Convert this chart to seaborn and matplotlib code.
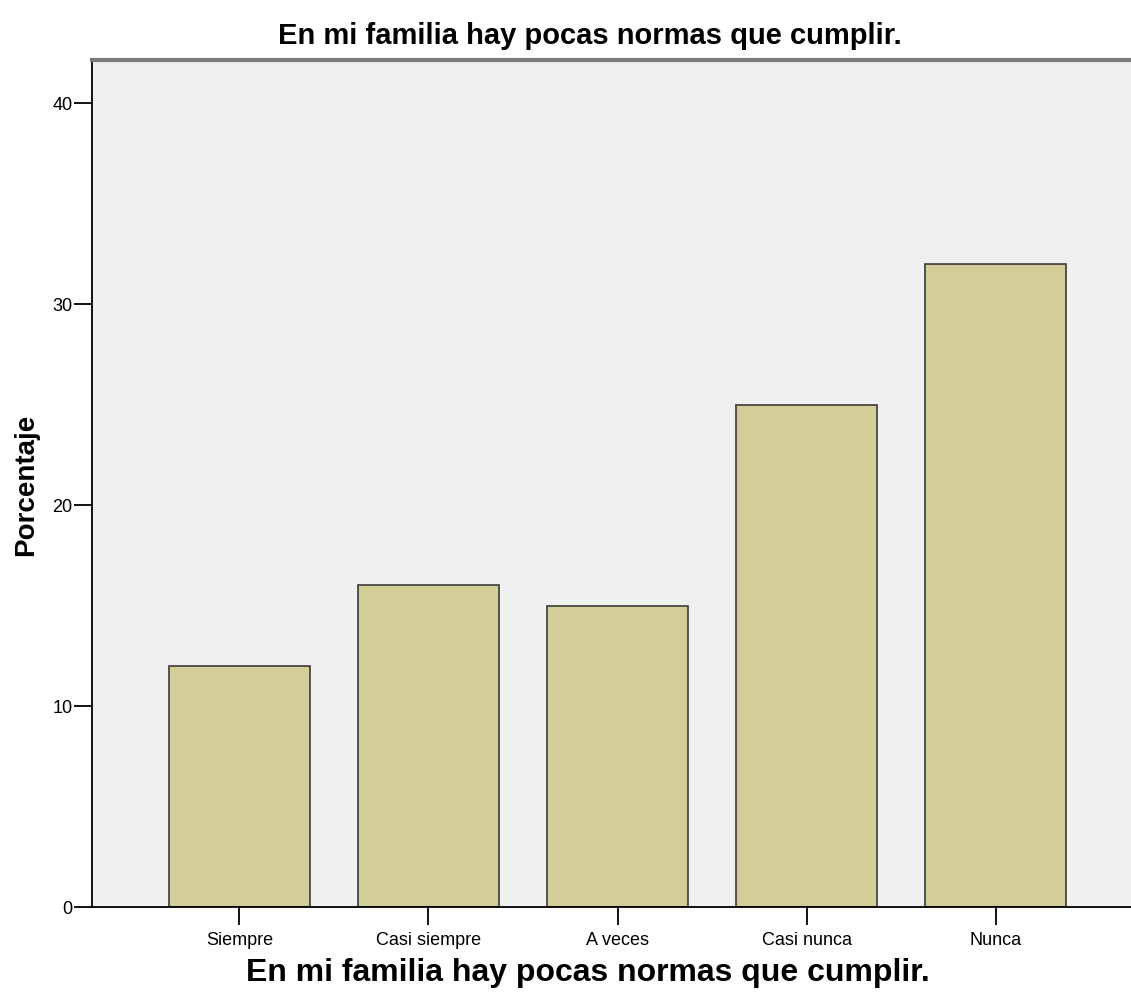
import numpy as np
import pandas as pd
import matplotlib
matplotlib.use("Agg")
import matplotlib.pyplot as plt
import seaborn as sns

# ================= DATA =================
categorias = ["Siempre", "Casi siempre", "A veces", "Casi nunca", "Nunca"]
porcentajes = [12, 16, 15, 25, 32]
yticks = [0, 10, 20, 30, 40]

titulo = "En mi familia hay pocas normas que cumplir."

df = pd.DataFrame({"respuesta": categorias, "porcentaje": porcentajes})

# ================= PLOT =================
sns.set_style("white")
plt.rcParams["font.family"] = ["Liberation Sans", "DejaVu Sans"]
plt.rcParams["text.color"] = "black"
plt.rcParams["axes.labelcolor"] = "black"

fig = plt.figure(figsize=(11.31, 10), dpi=100)
ax = fig.add_axes([92 / 1131, 93 / 1000, (1143 - 92) / 1131, 847 / 1000])
ax.set_facecolor("#F0F0F0")

sns.barplot(data=df, x="respuesta", y="porcentaje", order=categorias,
            color="#D3CE97", saturation=1, width=0.75,
            edgecolor="#3A3A3A", linewidth=1.2, ax=ax)

ax.set_xlim(-0.78, 4.78)
ax.set_ylim(0, 42.14)
ax.set_yticks(yticks)
ax.set_yticklabels([str(t) for t in yticks])
ax.tick_params(axis="both", direction="out", length=13, width=1.3,
               color="black", labelcolor="black", labelsize=13, pad=1,
               left=True, bottom=True)
ax.tick_params(axis="x", pad=5)

for s in ["left", "bottom"]:
    ax.spines[s].set_color("black")
    ax.spines[s].set_linewidth(1.3)
ax.spines["top"].set_color("#7A7A7A")
ax.spines["top"].set_linewidth(3)
ax.spines["right"].set_visible(False)

# posiciones de etiquetas en pixeles de la figura
def fig2ax(px, py):
    return ax.transAxes.inverted().transform(fig.transFigure.transform((px / 1131, 1 - py / 1000)))

ax.set_xlabel(titulo, fontsize=23, fontweight="bold")
ax.set_ylabel("Porcentaje", fontsize=20, fontweight="bold")
ax.xaxis.set_label_coords(*fig2ax(588, 973))
ax.xaxis.label.set_va("center")
ax.yaxis.set_label_coords(*fig2ax(26, 485))
ax.yaxis.label.set_va("center")

fig.text(590 / 1131, 1 - 36 / 1000, titulo, ha="center", va="center",
         fontsize=21, fontweight="bold")

plt.savefig("out.png", dpi=100)
